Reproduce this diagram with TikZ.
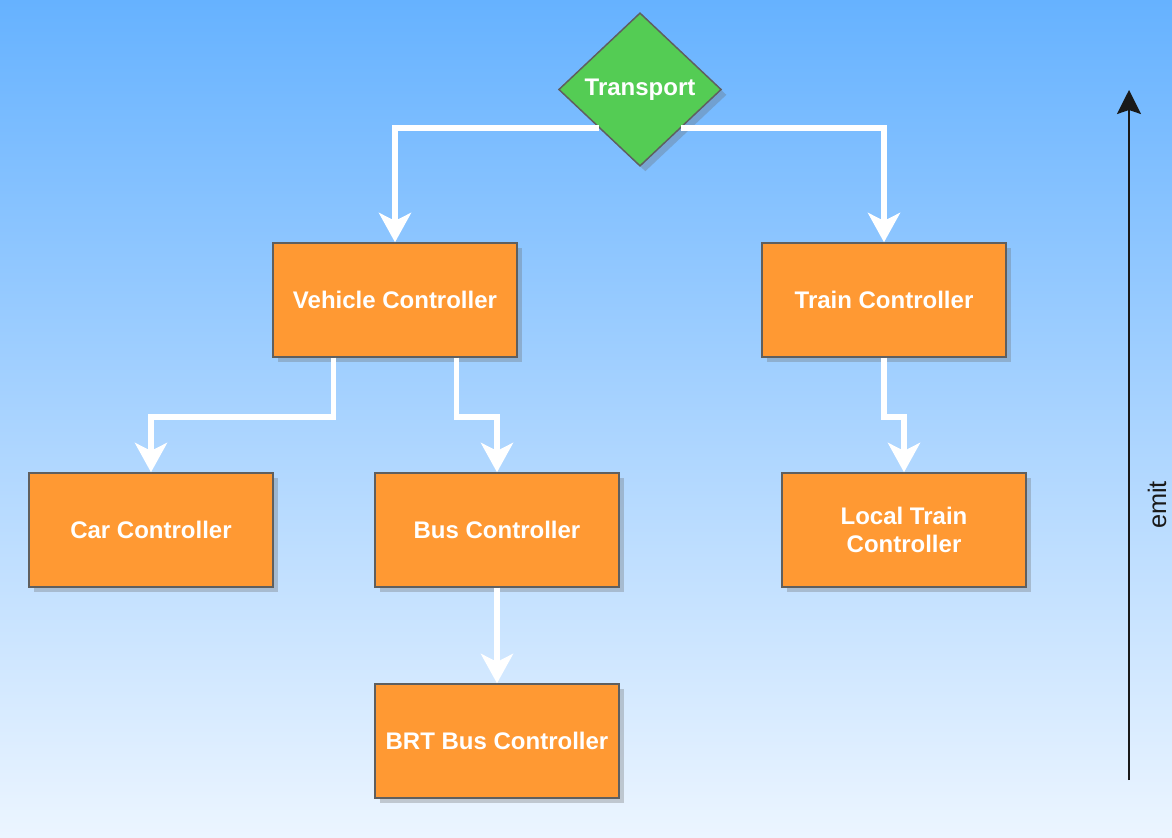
\documentclass[tikz,border=0pt]{standalone}
\usepackage{fontspec}
\setmainfont{Liberation Sans}
\usetikzlibrary{arrows.meta,shapes.geometric,shadows,calc}
\definecolor{bgtop}{RGB}{102,178,255}
\definecolor{bgbot}{RGB}{236,245,255}
\definecolor{boxfill}{RGB}{255,153,51}
\definecolor{dfill}{RGB}{84,204,84}
\definecolor{bord}{RGB}{95,95,95}
\definecolor{emitc}{RGB}{25,25,25}
\tikzset{
  ctrl/.style={rectangle, draw=bord, line width=1.1pt, fill=boxfill,
    minimum width=183pt, minimum height=85.5pt, inner sep=0pt,
    text=white, align=center, font=\bfseries\fontsize{18}{21.5}\selectfont,
    drop shadow={shadow xshift=4pt, shadow yshift=-4pt, opacity=0.3, fill=black!60}},
  decide/.style={diamond, draw=bord, line width=1.1pt, fill=dfill,
    minimum width=122pt, minimum height=115pt, inner sep=0pt,
    text=white, font=\bfseries\fontsize{18}{21.5}\selectfont,
    drop shadow={shadow xshift=4pt, shadow yshift=-4pt, opacity=0.3, fill=black!60}},
  flow/.style={draw=white, line width=4.2pt, line join=miter,
    -{Stealth[length=22pt,width=24pt,inset=6pt]}},
  emitarrow/.style={draw=emitc, line width=1.7pt,
    -{Stealth[length=18pt,width=18pt,inset=3pt]}}
}
\begin{document}
\begin{tikzpicture}[x=0.75pt,y=-0.75pt]
\fill[top color=bgtop, bottom color=bgbot] (0,0) rectangle (1172,838);
\useasboundingbox (0,0) rectangle (1172,838);

\node[decide] (t) at (640,89.5) {Transport};
\node[ctrl] (v) at (395,300) {Vehicle Controller};
\node[ctrl] (tr) at (884,300) {Train Controller};
\node[ctrl] (car) at (151,530) {Car Controller};
\node[ctrl] (bus) at (497,530) {Bus Controller};
\node[ctrl] (lt) at (904,530) {Local Train\\Controller};
\node[ctrl] (brt) at (497,741) {BRT Bus Controller};

\draw[flow] ($(t.west)!0.5!(t.south)$) -| (v.north);
\draw[flow] ($(t.east)!0.5!(t.south)$) -| (tr.north);
\draw[flow] ($(v.south west)!0.25!(v.south east)$) -- ++(0,59) -| (car.north);
\draw[flow] ($(v.south west)!0.75!(v.south east)$) -- ++(0,59) -| (bus.north);
\draw[flow] (tr.south) -- ++(0,59) -| (lt.north);
\draw[flow] (bus.south) -- (brt.north);

\coordinate (e0) at (1129,780);
\coordinate (e1) at (1129,90);
\draw[emitarrow] (e0) -- (e1);
\node[rotate=90, text=emitc, font=\fontsize{19}{22}\selectfont] (emitlbl) at (1157,505) {emit};
\end{tikzpicture}
\end{document}
